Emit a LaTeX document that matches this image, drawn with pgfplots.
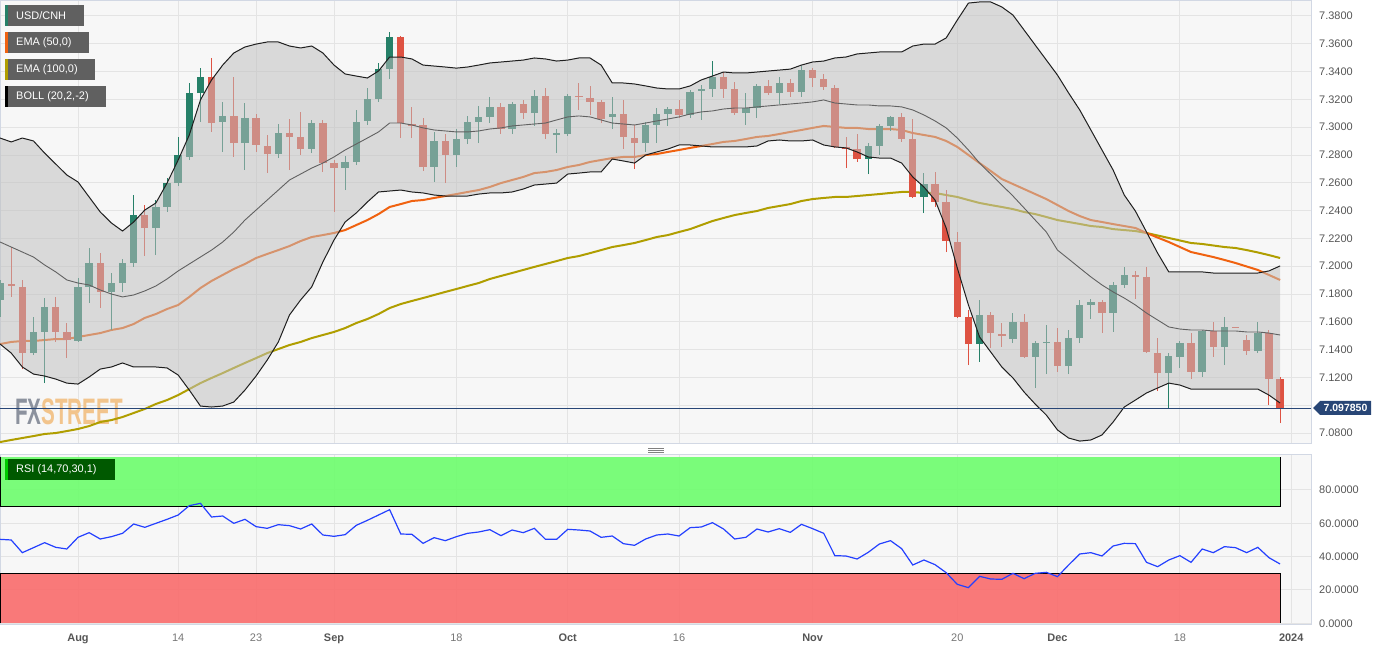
\documentclass[border=0pt]{standalone}
\usepackage{fontspec}
\setmainfont{Liberation Sans}
\usepackage{pgfplots}
\usepackage{pgfplotstable}
\pgfplotsset{compat=1.18}

\definecolor{panelbg}{RGB}{247,247,247}
\definecolor{gridc}{RGB}{228,228,228}
\definecolor{framec}{RGB}{210,216,228}
\definecolor{upc}{RGB}{38,128,104}
\definecolor{dnc}{RGB}{222,82,66}
\definecolor{bandc}{RGB}{192,192,192}
\definecolor{emaf}{RGB}{240,98,16}
\definecolor{emas}{RGB}{176,158,0}
\definecolor{pricec}{RGB}{40,70,118}
\definecolor{rsic}{RGB}{36,64,255}
\definecolor{obc}{RGB}{109,253,109}
\definecolor{osc}{RGB}{250,108,108}
\definecolor{legc}{RGB}{96,96,96}
\definecolor{tickc}{RGB}{85,85,85}
\definecolor{dayc}{RGB}{118,118,118}
\definecolor{wmgray}{RGB}{140,146,158}
\definecolor{wmorange}{RGB}{242,196,140}

\newcommand{\mlab}[1]{\textcolor{tickc}{\textbf{#1}}}
\newcommand{\dlab}[1]{\textcolor{dayc}{#1}}

% up (green) candles: index, open, high, low, close
\pgfplotstableread{
x o h l c
-7 7.1757 7.1901 7.1635 7.1879
-4 7.1375 7.1635 7.1361 7.1527
-3 7.1527 7.1771 7.1159 7.1707
0 7.1462 7.1915 7.1455 7.1851
1 7.1851 7.2130 7.1735 7.2023
3 7.1815 7.1951 7.1541 7.1879
4 7.1879 7.2051 7.1815 7.2023
5 7.2023 7.2512 7.1995 7.2368
7 7.2274 7.2476 7.2080 7.2426
8 7.2426 7.2634 7.2390 7.2598
9 7.2598 7.2930 7.2577 7.2800
10 7.2786 7.3318 7.2764 7.3246
11 7.3246 7.3425 7.3038 7.3361
13 7.3038 7.3182 7.2822 7.3081
15 7.2886 7.3174 7.2692 7.3066
18 7.2807 7.3023 7.2778 7.2958
21 7.2843 7.3052 7.2814 7.3030
24 7.2706 7.2793 7.2548 7.2750
25 7.2750 7.3124 7.2728 7.3038
26 7.3045 7.3282 7.3016 7.3203
27 7.3203 7.3461 7.3182 7.3418
28 7.3418 7.3685 7.3346 7.3649
32 7.2714 7.2966 7.2606 7.2901
34 7.2800 7.2987 7.2714 7.2915
35 7.2915 7.3081 7.2879 7.3038
36 7.3038 7.3153 7.2886 7.3074
37 7.3074 7.3218 7.3030 7.3146
39 7.2987 7.3182 7.2951 7.3167
41 7.3102 7.3268 7.3009 7.3225
43 7.2944 7.2987 7.2814 7.2958
44 7.2951 7.3239 7.2937 7.3225
48 7.3074 7.3218 7.2987 7.3095
51 7.2886 7.3038 7.2822 7.3016
52 7.3016 7.3138 7.2886 7.3095
53 7.3095 7.3146 7.3009 7.3131
55 7.3088 7.3268 7.3066 7.3254
56 7.3261 7.3304 7.3052 7.3275
57 7.3275 7.3476 7.3218 7.3361
60 7.3102 7.3246 7.3016 7.3138
61 7.3138 7.3311 7.3066 7.3297
63 7.3246 7.3361 7.3167 7.3318
65 7.3254 7.3440 7.3218 7.3411
71 7.2771 7.2886 7.2663 7.2865
72 7.2865 7.3023 7.2800 7.3009
73 7.3009 7.3081 7.2973 7.3074
76 7.2498 7.2670 7.2382 7.2591
81 7.1440 7.1757 7.1311 7.1649
84 7.1476 7.1663 7.1447 7.1599
86 7.1347 7.1462 7.1123 7.1447
87 7.1447 7.1577 7.1224 7.1455
89 7.1282 7.1541 7.1224 7.1483
90 7.1483 7.1757 7.1447 7.1721
91 7.1721 7.1765 7.1620 7.1743
93 7.1663 7.1887 7.1527 7.1865
94 7.1865 7.1995 7.1843 7.1937
98 7.1231 7.1375 7.0980 7.1354
99 7.1347 7.1462 7.1267 7.1447
101 7.1239 7.1541 7.1203 7.1534
103 7.1419 7.1635 7.1289 7.1563
106 7.1390 7.1599 7.1375 7.1519
}\upcandles

% down (red) candles
\pgfplotstableread{
x o h l c
-6 7.1872 7.2138 7.1779 7.1858
-5 7.1851 7.1901 7.1260 7.1375
-2 7.1707 7.1779 7.1455 7.1527
-1 7.1527 7.1591 7.1339 7.1469
2 7.2023 7.2094 7.1699 7.1815
6 7.2368 7.2440 7.2073 7.2274
12 7.3361 7.3497 7.2966 7.3030
14 7.3081 7.3361 7.2786 7.2886
16 7.3066 7.3095 7.2822 7.2872
17 7.2865 7.2944 7.2670 7.2807
19 7.2958 7.3059 7.2692 7.2930
20 7.2930 7.3110 7.2800 7.2843
22 7.3030 7.3052 7.2678 7.2742
23 7.2742 7.2764 7.2390 7.2706
29 7.3649 7.3655 7.2922 7.3030
30 7.3023 7.3146 7.2922 7.3009
31 7.3016 7.3066 7.2685 7.2714
33 7.2901 7.2951 7.2598 7.2800
38 7.3146 7.3174 7.2951 7.2987
40 7.3167 7.3196 7.3059 7.3102
42 7.3225 7.3282 7.2915 7.2951
45 7.3225 7.3318 7.3124 7.3215
46 7.3210 7.3297 7.3088 7.3182
47 7.3182 7.3196 7.3030 7.3059
49 7.3095 7.3196 7.2843 7.2930
50 7.2922 7.3016 7.2699 7.2886
54 7.3131 7.3196 7.3066 7.3088
58 7.3361 7.3397 7.3210 7.3275
59 7.3275 7.3326 7.3088 7.3102
62 7.3297 7.3340 7.3232 7.3246
64 7.3318 7.3346 7.3218 7.3254
66 7.3411 7.3425 7.3290 7.3353
67 7.3346 7.3382 7.3268 7.3290
68 7.3282 7.3304 7.2851 7.2858
69 7.2858 7.2930 7.2706 7.2843
70 7.2843 7.2951 7.2750 7.2771
74 7.3074 7.3102 7.2894 7.2915
75 7.2915 7.3059 7.2490 7.2498
77 7.2591 7.2678 7.2426 7.2462
78 7.2462 7.2548 7.2102 7.2181
79 7.2174 7.2246 7.1628 7.1635
80 7.1635 7.1685 7.1289 7.1440
82 7.1649 7.1671 7.1411 7.1519
83 7.1512 7.1591 7.1419 7.1498
85 7.1599 7.1656 7.1339 7.1347
88 7.1455 7.1555 7.1239 7.1282
92 7.1743 7.1757 7.1519 7.1663
95 7.1937 7.1966 7.1765 7.1923
96 7.1923 7.1995 7.1375 7.1383
97 7.1375 7.1483 7.1102 7.1231
100 7.1447 7.1519 7.1188 7.1239
102 7.1534 7.1599 7.1347 7.1419
104 7.1563 7.1563 7.1556 7.1556
105 7.1469 7.1505 7.1361 7.1390
107 7.1519 7.1541 7.1001 7.1188
108 7.1188 7.1203 7.0872 7.0979
}\dncandles

% Bollinger envelope: upper band (part 0) then lower band backwards (part 1)
\pgfplotstableread{
x y part
-7 7.2922 0
-6 7.2894 0
-5 7.2922 0
-4 7.2901 0
-3 7.2814 0
-2 7.2735 0
-1 7.2656 0
0 7.2606 0
1 7.2498 0
2 7.2390 0
3 7.2311 0
4 7.2253 0
5 7.2318 0
6 7.2404 0
7 7.2455 0
8 7.2598 0
9 7.2764 0
10 7.2944 0
11 7.3196 0
12 7.3340 0
13 7.3447 0
14 7.3534 0
15 7.3577 0
16 7.3598 0
17 7.3613 0
18 7.3613 0
19 7.3584 0
20 7.3570 0
21 7.3584 0
22 7.3534 0
23 7.3447 0
24 7.3383 0
25 7.3368 0
26 7.3354 0
27 7.3404 0
28 7.3505 0
29 7.3505 0
30 7.3491 0
31 7.3447 0
32 7.3440 0
33 7.3433 0
34 7.3425 0
35 7.3433 0
36 7.3447 0
37 7.3462 0
38 7.3469 0
39 7.3476 0
40 7.3483 0
41 7.3498 0
42 7.3491 0
43 7.3476 0
44 7.3483 0
45 7.3498 0
46 7.3498 0
47 7.3447 0
48 7.3318 0
49 7.3318 0
50 7.3311 0
51 7.3297 0
52 7.3282 0
53 7.3275 0
54 7.3275 0
55 7.3297 0
56 7.3340 0
57 7.3368 0
58 7.3397 0
59 7.3390 0
60 7.3390 0
61 7.3397 0
62 7.3404 0
63 7.3411 0
64 7.3418 0
65 7.3447 0
66 7.3469 0
67 7.3476 0
68 7.3498 0
69 7.3505 0
70 7.3527 0
71 7.3534 0
72 7.3541 0
73 7.3541 0
74 7.3541 0
75 7.3584 0
76 7.3598 0
77 7.3598 0
78 7.3642 0
79 7.3771 0
80 7.3893 0
81 7.3901 0
82 7.3901 0
83 7.3865 0
84 7.3807 0
85 7.3699 0
86 7.3591 0
87 7.3483 0
88 7.3375 0
89 7.3246 0
90 7.3124 0
91 7.2980 0
92 7.2836 0
93 7.2692 0
94 7.2512 0
95 7.2397 0
96 7.2246 0
97 7.2094 0
98 7.1959 0
99 7.1959 0
100 7.1959 0
101 7.1959 0
102 7.1951 0
103 7.1951 0
104 7.1951 0
105 7.1951 0
106 7.1951 0
107 7.1966 0
108 7.2002 0
108 7.1016 1
107 7.1073 1
106 7.1116 1
105 7.1116 1
104 7.1116 1
103 7.1116 1
102 7.1116 1
101 7.1116 1
100 7.1116 1
99 7.1145 1
98 7.1159 1
97 7.1124 1
96 7.1088 1
95 7.1037 1
94 7.0987 1
93 7.0879 1
92 7.0786 1
91 7.0750 1
90 7.0742 1
89 7.0764 1
88 7.0822 1
87 7.0929 1
86 7.1008 1
85 7.1095 1
84 7.1196 1
83 7.1275 1
82 7.1383 1
81 7.1491 1
80 7.1721 1
79 7.1987 1
78 7.2275 1
77 7.2476 1
76 7.2570 1
75 7.2642 1
74 7.2742 1
73 7.2778 1
72 7.2778 1
71 7.2786 1
70 7.2822 1
69 7.2851 1
68 7.2858 1
67 7.2872 1
66 7.2908 1
65 7.2901 1
64 7.2901 1
63 7.2908 1
62 7.2901 1
61 7.2865 1
60 7.2858 1
59 7.2858 1
58 7.2858 1
57 7.2858 1
56 7.2865 1
55 7.2872 1
54 7.2872 1
53 7.2843 1
52 7.2822 1
51 7.2800 1
50 7.2742 1
49 7.2757 1
48 7.2771 1
47 7.2678 1
46 7.2678 1
45 7.2670 1
44 7.2663 1
43 7.2598 1
42 7.2591 1
41 7.2584 1
40 7.2555 1
39 7.2534 1
38 7.2527 1
37 7.2527 1
36 7.2519 1
35 7.2505 1
34 7.2505 1
33 7.2505 1
32 7.2512 1
31 7.2527 1
30 7.2534 1
29 7.2548 1
28 7.2541 1
27 7.2534 1
26 7.2462 1
25 7.2383 1
24 7.2318 1
23 7.2188 1
22 7.2030 1
21 7.1851 1
20 7.1757 1
19 7.1649 1
18 7.1455 1
17 7.1325 1
16 7.1210 1
15 7.1109 1
14 7.1023 1
13 7.0994 1
12 7.0987 1
11 7.0994 1
10 7.1109 1
9 7.1217 1
8 7.1268 1
7 7.1275 1
6 7.1275 1
5 7.1275 1
4 7.1304 1
3 7.1275 1
2 7.1260 1
1 7.1203 1
0 7.1152 1
-1 7.1159 1
-2 7.1188 1
-3 7.1210 1
-4 7.1224 1
-5 7.1275 1
-6 7.1375 1
-7 7.1440 1
}\band

% Bollinger middle band, EMA 50, EMA 100, RSI 14
\pgfplotstableread{
x mid ema50 ema100 rsi
-7 7.2174 7.1440 7.0735 50.4
-6 7.2138 7.1455 7.0750 50.0
-5 7.2102 7.1462 7.0764 42.4
-4 7.2066 7.1462 7.0778 45.4
-3 7.2009 7.1469 7.0793 48.4
-2 7.1959 7.1476 7.0800 45.6
-1 7.1901 7.1476 7.0814 44.6
0 7.1879 7.1491 7.0829 51.6
1 7.1865 7.1505 7.0850 54.4
2 7.1829 7.1519 7.0879 50.6
3 7.1800 7.1541 7.0893 52.0
4 7.1779 7.1555 7.0915 54.0
5 7.1793 7.1584 7.0944 59.6
6 7.1822 7.1628 7.0973 57.6
7 7.1858 7.1656 7.1009 60.0
8 7.1908 7.1692 7.1037 62.4
9 7.1966 7.1721 7.1073 65.0
10 7.2016 7.1779 7.1116 70.6
11 7.2066 7.1843 7.1159 72.0
12 7.2116 7.1894 7.1196 63.8
13 7.2174 7.1937 7.1231 64.4
14 7.2246 7.1980 7.1268 60.0
15 7.2332 7.2016 7.1304 62.4
16 7.2404 7.2059 7.1339 58.0
17 7.2476 7.2088 7.1375 57.0
18 7.2548 7.2116 7.1404 59.2
19 7.2620 7.2145 7.1433 58.6
20 7.2663 7.2181 7.1455 56.6
21 7.2706 7.2210 7.1483 59.6
22 7.2742 7.2224 7.1505 53.0
23 7.2786 7.2239 7.1527 52.2
24 7.2836 7.2260 7.1555 53.2
25 7.2879 7.2296 7.1591 58.8
26 7.2922 7.2332 7.1620 61.8
27 7.2966 7.2375 7.1656 65.0
28 7.3030 7.2426 7.1699 68.2
29 7.3030 7.2447 7.1728 53.6
30 7.3016 7.2469 7.1750 53.4
31 7.2995 7.2476 7.1771 48.0
32 7.2980 7.2491 7.1793 51.4
33 7.2973 7.2505 7.1815 49.6
34 7.2966 7.2519 7.1836 52.0
35 7.2966 7.2534 7.1858 54.0
36 7.2973 7.2548 7.1879 54.8
37 7.2987 7.2570 7.1908 56.2
38 7.2995 7.2598 7.1930 52.6
39 7.3009 7.2620 7.1951 56.0
40 7.3016 7.2642 7.1973 54.4
41 7.3023 7.2670 7.1995 57.0
42 7.3030 7.2678 7.2016 50.4
43 7.3052 7.2692 7.2037 50.4
44 7.3074 7.2714 7.2059 56.4
45 7.3081 7.2728 7.2073 56.0
46 7.3074 7.2750 7.2094 55.4
47 7.3052 7.2764 7.2116 51.6
48 7.3030 7.2778 7.2138 52.4
49 7.3023 7.2786 7.2152 47.8
50 7.3016 7.2786 7.2167 46.8
51 7.3030 7.2800 7.2188 50.6
52 7.3045 7.2807 7.2210 53.0
53 7.3059 7.2822 7.2224 53.6
54 7.3074 7.2836 7.2246 52.4
55 7.3095 7.2851 7.2267 57.4
56 7.3110 7.2865 7.2296 57.8
57 7.3117 7.2879 7.2325 60.4
58 7.3131 7.2894 7.2347 56.6
59 7.3138 7.2901 7.2368 50.6
60 7.3138 7.2915 7.2383 51.6
61 7.3146 7.2930 7.2397 56.6
62 7.3153 7.2937 7.2419 54.8
63 7.3160 7.2951 7.2433 56.8
64 7.3167 7.2966 7.2447 54.6
65 7.3174 7.2980 7.2469 59.4
66 7.3182 7.2995 7.2483 56.8
67 7.3196 7.3009 7.2491 54.0
68 7.3174 7.3002 7.2498 40.6
69 7.3167 7.2995 7.2498 40.4
70 7.3160 7.2995 7.2505 38.6
71 7.3160 7.2987 7.2512 42.6
72 7.3153 7.2987 7.2519 47.6
73 7.3153 7.2987 7.2527 49.6
74 7.3146 7.2980 7.2534 44.8
75 7.3124 7.2958 7.2534 35.0
76 7.3088 7.2944 7.2527 38.0
77 7.3045 7.2930 7.2527 35.2
78 7.2995 7.2901 7.2512 30.4
79 7.2922 7.2858 7.2498 23.4
80 7.2836 7.2800 7.2476 21.4
81 7.2742 7.2742 7.2455 28.2
82 7.2663 7.2685 7.2440 26.6
83 7.2584 7.2627 7.2426 26.4
84 7.2505 7.2591 7.2411 30.0
85 7.2419 7.2555 7.2390 26.8
86 7.2332 7.2519 7.2375 30.0
87 7.2246 7.2483 7.2354 30.6
88 7.2116 7.2440 7.2332 28.0
89 7.2052 7.2397 7.2318 35.0
90 7.1987 7.2361 7.2304 41.6
91 7.1923 7.2332 7.2289 42.4
92 7.1865 7.2318 7.2282 40.4
93 7.1815 7.2303 7.2267 46.4
94 7.1771 7.2289 7.2260 48.0
95 7.1721 7.2275 7.2253 47.8
96 7.1663 7.2239 7.2239 36.6
97 7.1613 7.2206 7.2221 34.0
98 7.1563 7.2174 7.2203 38.0
99 7.1548 7.2138 7.2185 40.6
100 7.1541 7.2102 7.2167 36.6
101 7.1541 7.2084 7.2160 44.6
102 7.1534 7.2066 7.2149 42.4
103 7.1534 7.2045 7.2138 46.0
104 7.1534 7.2023 7.2131 45.4
105 7.1527 7.1998 7.2116 42.4
106 7.1527 7.1973 7.2099 45.6
107 7.1519 7.1937 7.2080 39.4
108 7.1505 7.1901 7.2059 35.6
}\lines

\pgfplotsset{
  panel/.style={
    scale only axis, width=1311bp,
    xmin=-7.008, xmax=110.78,
    axis background/.style={fill=panelbg},
    axis line style={draw=framec, line width=1bp},
    grid=major, major grid style={draw=gridc, line width=1bp},
    major tick length=0pt, tick style={draw=none},
    xtick={0,9,16,23,34,44,54,66,79,88,99,109},
    yticklabel pos=right,
    scaled y ticks=false,
    yticklabel style={anchor=west, inner sep=0pt, xshift=8bp, text=tickc,
      font=\fontsize{11}{13}\selectfont,
      /pgf/number format/fixed, /pgf/number format/fixed zerofill,
      /pgf/number format/precision=4, /pgf/number format/assume math mode=true},
  },
  wick/.style={draw=none, mark=none, forget plot,
    error bars/y dir=plus, error bars/y explicit, error bars/error mark=none,
    error bars/error bar style={draw=#1, line width=1bp}},
  body/.style={draw=none, mark=none, forget plot,
    error bars/y dir=plus, error bars/y explicit, error bars/error mark=none,
    error bars/error bar style={draw=#1, line width=7.4bp}},
}

\begin{document}
\begin{tikzpicture}

% price panel
\begin{axis}[panel, height=443bp,
  ymin=7.0721, ymax=7.3908,
  ytick={7.08,7.12,7.14,7.16,7.18,7.20,7.22,7.24,7.26,7.28,7.30,7.32,7.34,7.36,7.38},
  extra y ticks={7.10}, extra y tick labels={},
  xticklabels={}]
\node[anchor=south west, inner sep=0pt, xscale=0.56] at (rel axis cs:0.0114,0.043)
  {\fontsize{37}{37}\selectfont\bfseries\textcolor{wmgray}{FX}\textcolor{wmorange}{STREET}};
\addplot[emas, line width=2bp] table[x=x, y=ema100] {\lines};
\addplot[emaf, line width=2bp] table[x=x, y=ema50] {\lines};
\addplot[wick=upc] table[x=x, y=l, y error plus expr=\thisrow{h}-\thisrow{l}] {\upcandles};
\addplot[body=upc] table[x=x, y=o, y error plus expr=\thisrow{c}-\thisrow{o}] {\upcandles};
\addplot[wick=dnc] table[x=x, y=l, y error plus expr=\thisrow{h}-\thisrow{l}] {\dncandles};
\addplot[body=dnc] table[x=x, y=c, y error plus expr=\thisrow{o}-\thisrow{c}] {\dncandles};
\addplot[fill=bandc, fill opacity=0.53, draw=none] table[x=x, y=y] {\band};
\addplot[black!88, line width=1bp, restrict expr to domain={\thisrow{part}}{0:0}] table[x=x, y=y] {\band};
\addplot[black!88, line width=1bp, restrict expr to domain={\thisrow{part}}{1:1}] table[x=x, y=y] {\band};
\addplot[black!62, line width=0.9bp] table[x=x, y=mid] {\lines};
\addplot[pricec, line width=1bp] coordinates {(-7.008,7.09785) (110.78,7.09785)};
\coordinate (mSW) at (rel axis cs:0,0);
\coordinate (rsiTL) at (rel axis cs:0,-0.02483);
\end{axis}

% RSI panel
\begin{axis}[panel, at={(rsiTL)}, anchor=north west, height=170bp,
  ymin=-1, ymax=101, ytick={0,20,40,60,80},
  xticklabels={\mlab{Aug},\dlab{14},\dlab{23},\mlab{Sep},\dlab{18},\mlab{Oct},\dlab{16},\mlab{Nov},\dlab{20},\mlab{Dec},\dlab{18},\mlab{2024}},
  xticklabel style={anchor=base, inner sep=0pt, yshift=-17bp, font=\fontsize{11}{13}\selectfont}]
\addplot[fill=obc, fill opacity=0.9, draw=black, line width=1bp] coordinates {(-7.008,100) (-7.008,70) (108,70) (108,100)};
\addplot[fill=osc, fill opacity=0.9, draw=black, line width=1bp] coordinates {(-7.008,0) (-7.008,30) (108,30) (108,0)};
\addplot[rsic, line width=1.2bp] table[x=x, y=rsi] {\lines};
\end{axis}

\begin{scope}[x=1bp, y=1bp, shift={([yshift=-207bp]mSW)}]
% indicator labels
\begin{scope}[every node/.style={anchor=west, inner sep=0pt, text=white, font=\fontsize{11}{13}\selectfont}]
\fill[legc] (5,625) rectangle (84,646);   \fill[upc] (5,625) rectangle (7.5,646);
\node at (16,635.5) {USD/CNH};
\fill[legc] (5,598) rectangle (89,619);   \fill[emaf] (5,598) rectangle (7.5,619);
\node at (16,608.5) {EMA (50,0)};
\fill[legc] (5,571) rectangle (95,592);   \fill[emas] (5,571) rectangle (7.5,592);
\node at (16,581.5) {EMA (100,0)};
\fill[legc] (5,544) rectangle (106,565);  \fill[black] (5,544) rectangle (7.5,565);
\node at (16,554.5) {BOLL (20,2,-2)};
\fill[green!35!black] (5,171) rectangle (115,192); \fill[green!80!black] (5,171) rectangle (7.5,192);
\node at (16,181.5) {RSI (14,70,30,1)};
\end{scope}
% last price tag
\fill[pricec] (1313,243) -- (1320,250) -- (1371,250) -- (1371,236) -- (1320,236) -- cycle;
\node[text=white, inner sep=0pt, font=\fontsize{10.5}{12}\selectfont\bfseries] at (1345.5,243) {7.097850};
% panel splitter handle
\draw[gray, line width=0.7bp] (648,203) -- (664,203) (648,201) -- (664,201) (648,199) -- (664,199);
\pgfresetboundingbox
\path[use as bounding box] (0,0) rectangle (1389,651);
\end{scope}
\end{tikzpicture}
\end{document}
